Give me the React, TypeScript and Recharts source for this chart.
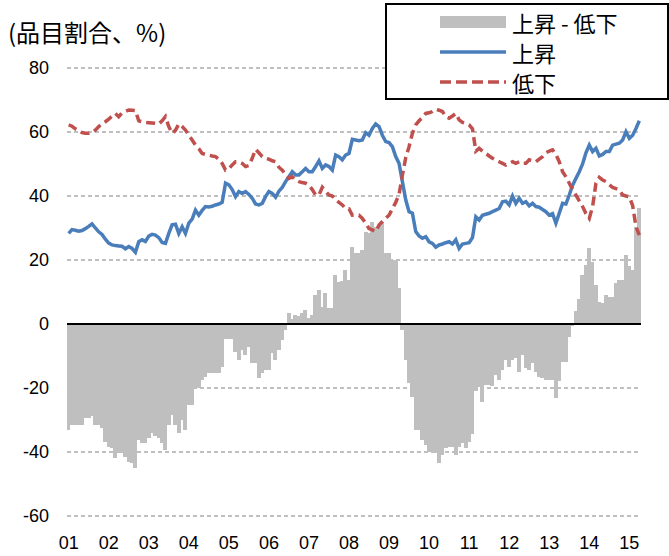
import {
  Bar,
  CartesianGrid,
  ComposedChart,
  Line,
  ReferenceLine,
  XAxis,
  YAxis,
} from "recharts";

const years = ["01", "02", "03", "04", "05", "06", "07", "08", "09", "10", "11", "12", "13", "14", "15"];

// 上昇 (share of items rising), monthly from 2001/01
const rise = [
  28.3, 29.5, 29.3, 29.0, 29.2, 29.8, 30.5, 31.3, 30.0, 28.8, 28.0, 26.5,
  25.3, 24.7, 24.5, 24.4, 24.3, 23.5, 24.2, 23.6, 22.4, 25.7, 26.3, 25.8,
  27.5, 28.0, 27.8, 27.0, 25.5, 25.2, 28.3, 31.0, 31.2, 28.3, 30.4, 28.3,
  31.5, 32.8, 35.6, 34.0, 35.5, 36.7, 36.6, 36.8, 37.2, 37.5, 38.0, 44.0,
  43.5, 42.0, 39.8, 41.4, 40.8, 41.4, 40.5, 39.3, 37.5, 37.2, 37.7, 39.8,
  41.4, 40.8, 39.6, 41.5, 42.7, 44.5, 46.0, 47.6, 46.6, 46.6, 47.6, 48.6,
  47.6, 47.6, 49.2, 51.0, 48.6, 49.7, 49.2, 48.1, 52.8, 52.3, 51.3, 52.8,
  53.3, 57.7, 57.5, 57.3, 57.5, 59.8, 59.0, 61.1, 62.5, 61.7, 59.0, 57.0,
  56.7, 55.4, 52.3, 50.2, 44.5, 38.8, 35.1, 34.6, 28.9, 27.5, 26.8, 27.3,
  25.7, 25.2, 24.0, 24.7, 25.0, 25.4, 25.7, 25.0, 26.3, 23.6, 25.0, 25.2,
  25.4, 27.0, 33.5, 32.5, 34.0, 34.3, 34.6, 35.1, 35.6, 36.1, 38.2, 38.4,
  37.2, 40.0, 37.7, 39.3, 37.7, 38.2, 36.9, 37.7, 36.7, 36.5, 35.8, 35.1,
  34.0, 34.5, 31.5, 34.6, 37.7, 37.5, 40.3, 43.4, 45.5, 47.6, 50.0, 53.5,
  55.9, 53.9, 54.9, 52.5, 53.0, 53.9, 53.9, 55.9, 56.2, 56.5, 57.5, 60.1,
  58.0, 59.0, 61.1, 63.5,
];

// 低下 (share of items falling)
const fall = [
  62.2, 61.8, 61.0, 60.5, 59.8, 59.6, 59.6, 59.8, 60.6, 61.7, 62.5, 63.2,
  64.0, 65.0, 65.8, 64.8, 66.0, 66.4, 66.9, 66.8, 66.7, 63.5, 63.2, 63.0,
  62.9, 62.8, 62.7, 62.5, 63.5, 64.8, 61.7, 59.6, 60.5, 62.5, 61.7, 60.6,
  59.0, 57.5, 55.9, 54.8, 53.3, 53.0, 52.8, 52.5, 52.3, 51.5, 50.2, 48.1,
  48.5, 49.7, 50.7, 50.7, 50.2, 49.2, 49.5, 51.8, 54.6, 53.5, 52.3, 51.8,
  51.5, 51.0, 50.7, 49.0, 48.1, 46.6, 45.5, 46.0, 45.0, 44.5, 44.2, 44.0,
  43.4, 42.0, 40.3, 40.3, 42.7, 41.5, 40.3, 40.0, 38.8, 38.0, 37.2, 36.1,
  36.0, 34.0, 34.0, 34.0, 33.0, 31.5, 29.8, 29.4, 28.9, 30.9, 32.0, 33.0,
  34.0, 36.0, 38.0, 40.5, 46.5, 52.0, 55.4, 59.6, 62.2, 63.5, 64.5, 65.8,
  66.0, 66.4, 67.1, 66.8, 66.4, 64.8, 64.3, 65.0, 65.8, 63.8, 63.0, 62.7,
  62.2, 61.0, 54.0, 54.9, 54.0, 53.3, 52.5, 51.8, 51.2, 50.7, 50.2, 49.7,
  50.2, 50.7, 50.2, 50.7, 50.2, 50.2, 51.3, 51.0, 50.7, 51.5, 52.3, 53.5,
  54.0, 54.4, 53.0, 50.7, 47.6, 46.0, 44.0, 42.0, 40.3, 38.5, 36.7, 34.5,
  33.0, 36.7, 44.0, 45.8, 45.0, 44.5, 43.5, 42.7, 42.3, 41.9, 40.3, 40.0,
  39.8, 37.0, 30.4, 27.8,
];

// 上昇 - 低下
const diff = [
  -33.1, -31.6, -31.6, -31.6, -31.6, -29.5, -29.5, -28.8, -31.6, -31.6, -32.6, -36.8,
  -38.3, -38.8, -42.0, -40.4, -40.4, -41.5, -43.0, -43.3, -45.1, -36.3, -37.3, -37.3,
  -35.7, -34.2, -35.0, -35.7, -37.3, -39.4, -31.6, -28.4, -31.6, -34.2, -30.0, -33.0,
  -25.3, -25.3, -20.1, -20.1, -17.5, -16.5, -15.2, -15.2, -15.2, -15.2, -13.5, -4.8,
  -4.8, -4.8, -8.6, -11.3, -8.1, -9.7, -7.1, -12.3, -12.3, -17.0, -15.4, -14.4,
  -14.4, -9.2, -11.3, -8.1, -5.0, -1.9, 3.5, 1.5, 2.8, 2.5, 3.3, 4.4,
  1.8, 2.8, 9.1, 10.6, 5.4, 9.6, 4.9, 4.9, 15.3, 13.2, 13.5, 16.9,
  13.8, 24.2, 22.1, 22.1, 23.1, 28.8, 28.3, 32.0, 30.4, 30.4, 32.0, 22.3,
  22.3, 20.0, 20.0, 11.1, -1.9, -11.3, -18.5, -22.7, -33.0, -33.0, -36.3, -37.8,
  -39.9, -40.0, -40.4, -43.5, -41.0, -38.9, -38.3, -38.3, -41.0, -38.3, -37.3, -38.8,
  -36.8, -34.5, -21.0, -19.6, -24.3, -19.1, -19.1, -19.3, -15.9, -17.5, -14.4, -11.3,
  -13.3, -11.3, -10.7, -14.9, -9.7, -13.9, -14.4, -12.3, -14.9, -16.5, -17.0, -17.5,
  -17.5, -17.5, -23.2, -17.9, -11.8, -11.8, -4.0, -0.5, 4.2, 7.7, 15.3, 18.4,
  23.6, 19.5, 12.2, 7.0, 6.5, 9.1, 8.5, 8.5, 12.7, 13.8, 13.8, 21.6,
  18.0, 16.9, 30.4, 36.1,
];

const yTicks = [-60, -40, -20, 0, 20, 40, 60, 80];

const data = diff.map((d, i) => ({
  month: `${years[Math.floor(i / 12)]}-${(i % 12) + 1}`,
  diff: d,
  rise: rise[i],
  fall: fall[i],
}));

const FONT = "'Liberation Sans', Arial, 'Noto Sans CJK JP', sans-serif";
const JP = "'Noto Sans CJK JP', 'Liberation Sans', sans-serif";
const BLUE = "#4a7ebb";
const RED = "#c0504d";
const GRAY = "#bfbfbf";

// bars touch each other in the original: snap to whole pixels so no seams show
function SolidBar(props: any) {
  const { x, y, width, height } = props;
  if (x == null || y == null || !height) return null;
  const top = Math.min(y, y + height);
  const left = Math.floor(x);
  const right = Math.ceil(x + width);
  return (
    <rect
      x={left}
      y={top}
      width={right - left}
      height={Math.abs(height)}
      fill={GRAY}
      shapeRendering="crispEdges"
    />
  );
}

function LegendBox() {
  const row = (swatch: JSX.Element, text: string, top: number) => (
    <div style={{ position: "absolute", left: 0, top, height: 30, display: "flex", alignItems: "center" }}>
      <svg width={120} height={30} style={{ display: "block" }}>{swatch}</svg>
      <span
        style={{
          fontFamily: JP,
          fontSize: 22,
          lineHeight: "30px",
          marginLeft: 5,
          color: "#000",
          whiteSpace: "pre",
        }}
      >
        {text}
      </span>
    </div>
  );
  return (
    <div
      style={{
        position: "absolute",
        left: 385,
        top: 3,
        width: 280,
        height: 93,
        border: "2px solid #000",
        background: "#fff",
      }}
    >
      {row(<rect x={53} y={9} width={66} height={12} fill={GRAY} />, "上昇 - 低下", 2)}
      {row(<line x1={53} x2={119} y1={15} y2={15} stroke={BLUE} strokeWidth={3.5} />, "上昇", 32)}
      {row(
        <line x1={53} x2={119} y1={15} y2={15} stroke={RED} strokeWidth={3.5} strokeDasharray="11 5" />,
        "低下",
        62
      )}
    </div>
  );
}

export default function App() {
  return (
    <div style={{ position: "absolute", left: 0, top: 0, width: 669, height: 556, background: "#fff" }}>
      <ComposedChart
        width={669}
        height={556}
        data={data}
        margin={{ top: 68, right: 28, left: 0, bottom: 0 }}
        barCategoryGap={0}
        barGap={0}
      >
        <CartesianGrid vertical={false} stroke="#808080" strokeDasharray="4 3" strokeWidth={1.2} />
        <XAxis
          dataKey="month"
          interval={11}
          tickFormatter={(v: string) => v.slice(0, 2)}
          axisLine={false}
          tickLine={false}
          tickMargin={14}
          height={40}
          tick={{ fontSize: 18, fill: "#000", fontFamily: FONT }}
        />
        <YAxis
          domain={[-60, 80]}
          ticks={yTicks}
          axisLine={false}
          tickLine={false}
          tickMargin={12}
          width={67}
          tick={{ fontSize: 18, fill: "#000", fontFamily: FONT }}
        />
        <Bar dataKey="diff" fill={GRAY} shape={SolidBar} isAnimationActive={false} />
        <ReferenceLine y={0} stroke="#000" strokeWidth={2} />
        <Line
          type="linear"
          dataKey="rise"
          stroke={BLUE}
          strokeWidth={3.5}
          dot={false}
          isAnimationActive={false}
        />
        <Line
          type="linear"
          dataKey="fall"
          stroke={RED}
          strokeWidth={3.5}
          strokeDasharray="9 5"
          dot={false}
          isAnimationActive={false}
        />
      </ComposedChart>
      <div
        style={{
          position: "absolute",
          left: 8,
          top: 17,
          fontFamily: JP,
          fontSize: 24,
          lineHeight: "30px",
          color: "#000",
          whiteSpace: "nowrap",
        }}
      >
        (品目割合、%)
      </div>
      <LegendBox />
    </div>
  );
}
